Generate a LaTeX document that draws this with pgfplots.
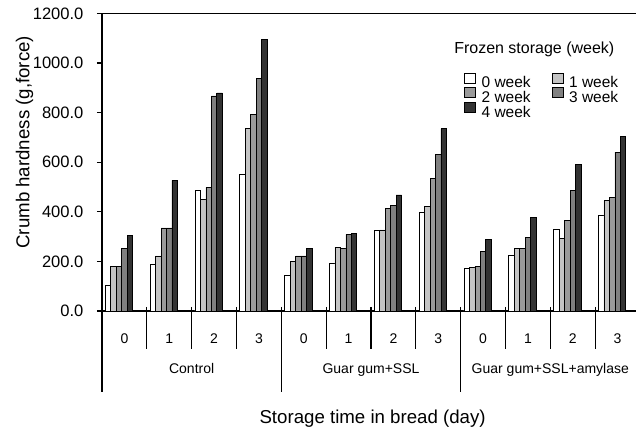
\documentclass[border=0pt]{standalone}
\usepackage{pgfplots}
\pgfplotsset{compat=1.18}
\usepackage{fontspec}
\setmainfont{Liberation Sans}
\definecolor{wkA}{HTML}{FFFFFF}
\definecolor{wkB}{HTML}{C4C4C4}
\definecolor{wkC}{HTML}{9A9A9A}
\definecolor{wkD}{HTML}{808080}
\definecolor{wkE}{HTML}{333333}
\pgfplotstableread{
x y
0.5 103
1.5 189
2.5 485
3.5 550
4.5 145
5.5 191
6.5 327
7.5 399
8.5 172
9.5 226
10.5 331
11.5 386
}\wkzero
\pgfplotstableread{
x y
0.5 181
1.5 222
2.5 449
3.5 736
4.5 199
5.5 258
6.5 327
7.5 421
8.5 177
9.5 254
10.5 294
11.5 445
}\wkone
\pgfplotstableread{
x y
0.5 181
1.5 335
2.5 498
3.5 794
4.5 222
5.5 254
6.5 412
7.5 535
8.5 181
9.5 254
10.5 364
11.5 458
}\wktwo
\pgfplotstableread{
x y
0.5 254
1.5 335
2.5 867
3.5 939
4.5 222
5.5 309
6.5 427
7.5 630
8.5 240
9.5 296
10.5 486
11.5 641
}\wkthree
\pgfplotstableread{
x y
0.5 304
1.5 527
2.5 879
3.5 1094
4.5 254
5.5 313
6.5 468
7.5 735
8.5 287
9.5 376
10.5 590
11.5 704
}\wkfour
\begin{document}
\begin{tikzpicture}
\begin{axis}[
  at={(76.5pt,87pt)}, anchor=south west,
  scale only axis, width=403.5pt, height=223.2pt,
  xmin=0, xmax=12, ymin=0, ymax=1200,
  axis line style={line width=0.8pt},
  ytick={0,200,...,1200},
  ytick pos=left,
  tick align=outside,
  major tick length=3.75pt,
  y tick style={line width=0.8pt, black},
  x tick style={draw=none},
  xtick={0.5,1.5,...,11.5},
  xticklabels={0,1,2,3,0,1,2,3,0,1,2,3},
  xticklabel style={font=\fontsize{10.5}{12}\selectfont, anchor=base, yshift=-20.5pt},
  yticklabel style={font=\fontsize{12.4}{14}\selectfont, anchor=east, inner sep=0pt, xshift=-10pt,
     /pgf/number format/.cd, fixed, fixed zerofill, precision=1, 1000 sep={}},
  /pgf/number format/assume math mode=true,
  ylabel={Crumb hardness (g,force)},
  xlabel={Storage time in bread (day)},
  every axis y label/.style={at={(axis description cs:-0.1348,0.567)}, rotate=90, anchor=base, font=\fontsize{14}{16}\selectfont},
  every axis x label/.style={at={(axis description cs:0.503,-0.378)}, anchor=base, font=\fontsize{14}{16}\selectfont},
  ybar, bar width=4.1pt,
  clip=false,
  legend columns=2,
  legend style={at={(axis description cs:0.6654,0.811)}, anchor=north west, draw=none, fill=none,
     font=\fontsize{11.6}{13}\selectfont, row sep=-1.9pt,
     nodes={inner xsep=0pt, inner ysep=1.8pt, text height=8.5pt, text depth=0pt},
     /tikz/every odd column/.append style={column sep=4.3pt},
     /tikz/every even column/.append style={column sep=15.8pt}},
  legend image code/.code={\draw[#1, draw=black, line width=0.5pt] (0pt,-0.75pt) rectangle (8.25pt,6.75pt);},
]
\addplot[fill=wkA, draw=black, line width=0.5pt, bar shift=-12.3pt] table[x=x,y=y] {\wkzero};
\addplot[fill=wkB, draw=black, line width=0.5pt, bar shift=-8.2pt] table[x=x,y=y] {\wkone};
\addplot[fill=wkC, draw=black, line width=0.5pt, bar shift=-4.1pt] table[x=x,y=y] {\wktwo};
\addplot[fill=wkD, draw=black, line width=0.5pt, bar shift=0pt] table[x=x,y=y] {\wkthree};
\addplot[fill=wkE, draw=black, line width=0.5pt, bar shift=4.1pt] table[x=x,y=y] {\wkfour};
\legend{0 week,1 week,2 week,3 week,4 week}
\end{axis}
\begin{scope}[x=0.75pt,y=-0.75pt,yshift=320.25pt]
\foreach \k in {1,2,3,5,6,7,9,10,11} \draw[line width=0.8pt] ({102+\k*44.833},307) -- ({102+\k*44.833},349);
\foreach \k in {0,4,8,12} \draw[line width=0.8pt] ({102+\k*44.833},307) -- ({102+\k*44.833},392);
\node[anchor=base, font=\fontsize{10.5}{12}\selectfont] at ({102+2*44.833},373.3) {Control};
\node[anchor=base, font=\fontsize{10.5}{12}\selectfont] at ({102+6*44.833},373.3) {Guar gum+SSL};
\node[anchor=base, font=\fontsize{10.5}{12}\selectfont] at ({102+10*44.833},373.3) {Guar gum+SSL+amylase};
\node[anchor=base west, inner sep=0pt, font=\fontsize{12}{14}\selectfont] at (454,54) {Frozen storage (week)};
\end{scope}
\pgfresetboundingbox
\path[use as bounding box] (0pt,0pt) rectangle (477pt,320.25pt);
\end{tikzpicture}
\end{document}
